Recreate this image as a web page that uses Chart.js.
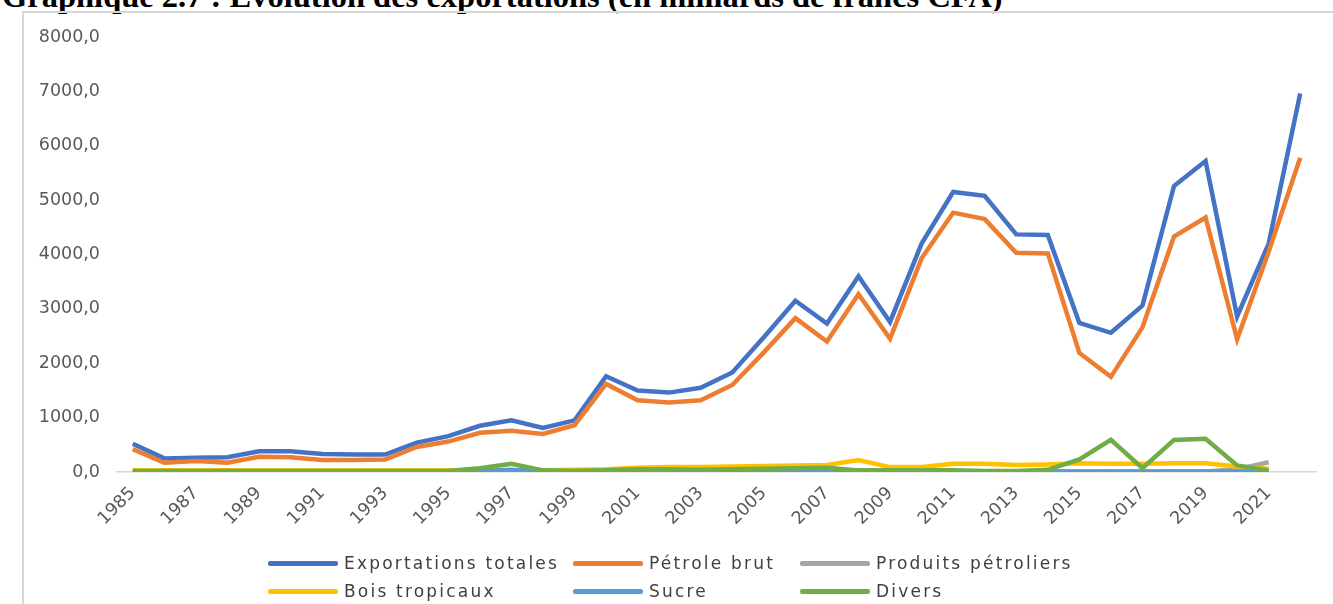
<!DOCTYPE html>
<html>
<head>
<meta charset="utf-8">
<script src="https://cdn.jsdelivr.net/npm/chart.js@4.4.1/dist/chart.umd.min.js"></script>
<style>
  body { margin: 0; background: #fff; width: 1333px; height: 604px; overflow: hidden; position: relative; }
  #titre { position: absolute; left: 2px; top: -22px; font: bold 32.5px "Liberation Serif", serif; white-space: nowrap; color: #000; }
  #cadre { position: absolute; left: 22px; top: 11px; width: 1330px; height: 610px; border: 2px solid #d6d6d6; }
  #zone { position: absolute; left: 0; top: 0; width: 1333px; height: 604px; }
  .item { position: absolute; display: flex; align-items: center; font: 17px "DejaVu Sans", sans-serif; letter-spacing: 2.2px; color: #404040; white-space: nowrap; }
  .trait { display: inline-block; width: 70px; height: 5px; margin-right: 6px; border-radius: 2px; }
</style>
</head>
<body>
<div id="titre">Graphique 2.7 : Evolution des exportations (en milliards de francs CFA)</div>
<div id="cadre"></div>
<div id="zone"><canvas id="graphique"></canvas></div>
<div id="legende"></div>
<script>
const annees = ['1985', '1986', '1987', '1988', '1989', '1990', '1991', '1992', '1993', '1994',
  '1995', '1996', '1997', '1998', '1999', '2000', '2001', '2002', '2003', '2004',
  '2005', '2006', '2007', '2008', '2009', '2010', '2011', '2012', '2013', '2014',
  '2015', '2016', '2017', '2018', '2019', '2020', '2021', '2022']

const exportationsTotales = [520, 250, 260, 270, 380, 380, 330, 320, 320, 540,
  660, 850, 950, 810, 950, 1760, 1500, 1460, 1550, 1830,
  2480, 3150, 2730, 3600, 2760, 4200, 5150, 5080, 4370, 4360,
  2740, 2560, 3060, 5260, 5720, 2860, 4200, 6960]

const petroleBrut = [420, 170, 200, 170, 280, 270, 220, 220, 230, 460,
  560, 720, 760, 700, 860, 1620, 1320, 1280, 1320, 1600,
  2200, 2830, 2400, 3270, 2450, 3930, 4770, 4650, 4030, 4020,
  2190, 1750, 2660, 4330, 4680, 2440, 4050, 5780]

const produitsPetroliers = [10, 10, 10, 10, 10, 10, 10, 10, 10, 10,
  10, 10, 10, 10, 10, 10, 10, 10, 10, 10,
  10, 10, 10, 10, 10, 10, 10, 10, 10, 10,
  10, 10, 10, 10, 10, 50, 180, null]

const boisTropicaux = [30, 30, 30, 30, 30, 30, 30, 30, 30, 30,
  30, 30, 30, 30, 40, 50, 80, 90, 90, 100,
  110, 120, 130, 220, 90, 90, 150, 150, 130, 140,
  160, 150, 150, 160, 160, 100, 60, null]

const sucre = [10, 10, 10, 10, 10, 10, 10, 10, 10, 10,
  10, 20, 40, 10, 10, 10, 10, 10, 10, 10,
  10, 10, 10, 10, 10, 10, 10, 10, 10, 10,
  10, 10, 10, 10, 10, 10, 10, null]

const divers = [20, 20, 20, 20, 20, 20, 20, 20, 20, 20,
  20, 70, 150, 30, 20, 30, 50, 50, 40, 50,
  60, 70, 80, 30, 30, 30, 30, 20, 20, 40,
  230, 590, 70, 590, 610, 120, 30, null]

const series = [
  { label: 'Exportations totales', data: exportationsTotales, color: '#4472C4' },
  { label: 'Pétrole brut', data: petroleBrut, color: '#ED7D31' },
  { label: 'Produits pétroliers', data: produitsPetroliers, color: '#A5A5A5' },
  { label: 'Bois tropicaux', data: boisTropicaux, color: '#FFC000' },
  { label: 'Sucre', data: sucre, color: '#5B9BD5' },
  { label: 'Divers', data: divers, color: '#70AD47' }
]

const police = { family: '"DejaVu Sans", sans-serif', size: 17.5 }

const data = {
  labels: annees,
  datasets: series.map((s, i) => ({
    label: s.label,
    data: s.data,
    borderColor: s.color,
    backgroundColor: s.color,
    borderWidth: 4.5,
    pointRadius: 0,
    tension: 0,
    order: series.length - i
  }))
}

const config = {
  type: 'line',
  data,
  options: {
    responsive: true,
    maintainAspectRatio: false,
    animation: false,
    layout: { padding: { left: 30, top: 37, right: 17, bottom: 72 } },
    plugins: {
      legend: { display: false },
      tooltip: { enabled: false }
    },
    scales: {
      x: {
        offset: true,
        grid: { display: false },
        border: { display: true, color: '#d9d9d9', width: 1.5 },
        ticks: {
          autoSkip: false,
          maxRotation: 45,
          minRotation: 45,
          color: '#595959',
          font: police,
          padding: 3,
          callback: (v, i) => (i % 2 === 0 ? annees[i] : '')
        },
        afterFit: (s) => { s.height = 60 }
      },
      y: {
        min: 0,
        max: 8000,
        grid: { display: false },
        border: { display: false },
        ticks: {
          stepSize: 1000,
          color: '#595959',
          font: police,
          padding: 9,
          callback: (v) => v.toFixed(1).replace('.', ',')
        },
        afterFit: (s) => { s.width = 87 }
      }
    }
  }
}

const graph = new Chart(document.getElementById('graphique'), config)

// légende en grille (3 colonnes, 2 lignes) comme dans Excel
const colonnes = [268, 573, 800]
const lignes = [564, 592]
const legende = document.getElementById('legende')
graph.data.datasets.forEach((ds, i) => {
  const item = document.createElement('div')
  item.className = 'item'
  item.style.left = colonnes[i % 3] + 'px'
  item.style.top = (lignes[Math.floor(i / 3)] - 11) + 'px'
  const trait = document.createElement('span')
  trait.className = 'trait'
  trait.style.background = ds.borderColor
  item.appendChild(trait)
  item.appendChild(document.createTextNode(ds.label))
  legende.appendChild(item)
})
</script>
</body>
</html>
